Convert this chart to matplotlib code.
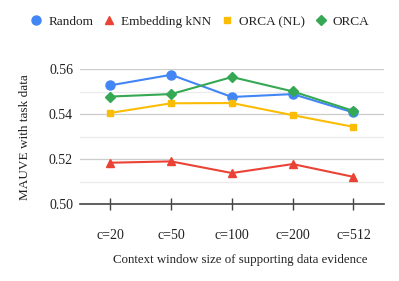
import matplotlib
matplotlib.use("Agg")
import matplotlib.pyplot as plt
from matplotlib.ticker import MultipleLocator
from matplotlib.lines import Line2D

plt.rcParams['font.family'] = ['Liberation Serif', 'DejaVu Serif']

# data
contexts = ["c=20", "c=50", "c=100", "c=200", "c=512"]
random_vals = [0.5529, 0.5576, 0.5477, 0.5490, 0.5408]
knn_vals = [0.5184, 0.5190, 0.5138, 0.5178, 0.5121]
orca_nl_vals = [0.5406, 0.5449, 0.5450, 0.5396, 0.5344]
orca_vals = [0.5479, 0.5490, 0.5566, 0.5502, 0.5415]

series = [
    ("Random", random_vals, "#4285F4", "o", 6.5),
    ("Embedding kNN", knn_vals, "#EA4335", "^", 5.5),
    ("ORCA (NL)", orca_nl_vals, "#FBBC04", "s", 5),
    ("ORCA", orca_vals, "#34A853", "D", 5),
]

fig = plt.figure(figsize=(3.99, 2.81), dpi=100)
ax = fig.add_axes([0.2005, 0.274, 0.7615, 0.479])

x = list(range(len(contexts)))
handles = []
for name, vals, color, marker, ms in series:
    ax.plot(x, vals, color=color, marker=marker, markersize=ms, linewidth=1.5,
            clip_on=False, zorder=3)
    handles.append(Line2D([], [], color=color, marker=marker, linestyle="none",
                          markersize=ms, label=name))

ax.set_xlim(-0.5, 4.5)
ax.set_ylim(0.50, 0.56)
ax.yaxis.set_major_locator(MultipleLocator(0.02))
ax.yaxis.set_minor_locator(MultipleLocator(0.01))
ax.yaxis.set_major_formatter(plt.FormatStrFormatter("%.2f"))
ax.grid(axis="y", which="major", color="#cccccc", linewidth=0.9)
ax.grid(axis="y", which="minor", color="#ebebeb", linewidth=0.9)
ax.set_axisbelow(True)

for s in ["top", "right", "left"]:
    ax.spines[s].set_visible(False)
ax.spines["bottom"].set_color("#444444")
ax.spines["bottom"].set_linewidth(1.2)

ax.set_xticks(x)
ax.set_xticklabels(contexts)
ax.tick_params(axis="x", direction="inout", length=8, width=1, color="#444444",
               labelsize=10, pad=14, labelcolor="#222222")
ax.tick_params(axis="y", which="both", length=0, labelsize=10, pad=5,
               labelcolor="#222222")

ax.set_ylabel("MAUVE with task data", fontsize=9.5, labelpad=13, color="#222222")
fig.text(240 / 399, 1 - 260 / 281, "Context window size of supporting data evidence",
         fontsize=9.3, ha="center", va="center", color="#222222")

fig.legend(handles=handles, loc="center", bbox_to_anchor=(0.5, 0.922), ncol=4,
           frameon=False, fontsize=9.5, handletextpad=0.4, columnspacing=0.7,
           handlelength=1.0, labelcolor="#222222")

fig.savefig("out.png", dpi=100)
